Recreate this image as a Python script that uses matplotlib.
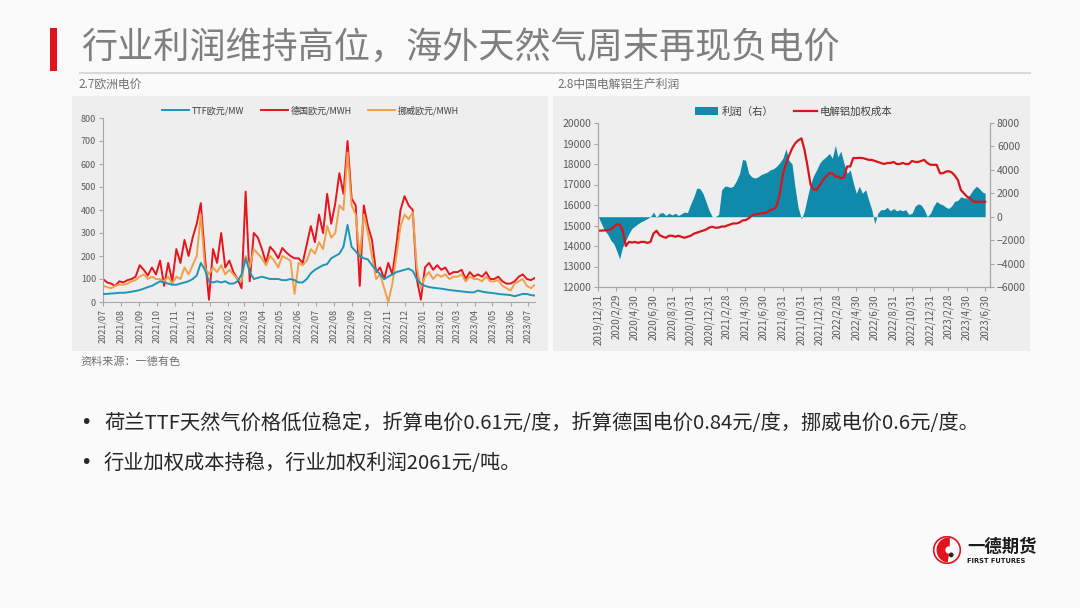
import matplotlib
matplotlib.use('Agg')
import matplotlib.pyplot as plt
import pandas as pd
from matplotlib.patches import Rectangle, Circle, Wedge
from matplotlib.lines import Line2D
from matplotlib.patches import Patch

plt.rcParams['font.family'] = ['Noto Sans CJK SC', 'DejaVu Sans']

# ---------------- data: European power prices (weekly samples) ----------------
euro_start = '2021-07-01'
ttf = [35, 35, 37, 38, 40,
       40, 42, 45, 48,
       52, 58, 65, 70, 80,
       90, 85, 80, 75,
       75, 80, 85, 90,
       100, 115, 170, 140, 90,
       85, 90, 85, 90,
       80, 80, 90, 120,
       190, 130, 100, 105, 110,
       105, 100, 100, 100,
       95, 95, 100, 95,
       85, 85, 100, 125, 140,
       150, 160, 165, 190,
       200, 210, 240, 335,
       240, 220, 200, 190, 185,
       160, 140, 120, 100,
       110, 120, 130, 135,
       140, 145, 135, 100, 80,
       70, 65, 62, 60,
       58, 55, 52, 50,
       48, 46, 44, 42, 42,
       50, 45, 42, 40,
       38, 35, 33, 32,
       30, 25, 30, 35, 35,
       30, 28]
germany = [100, 85, 80, 70, 90,
           85, 95, 100, 110,
           160, 140, 115, 150, 120,
           180, 70, 170, 90,
           230, 170, 270, 200,
           280, 340, 430, 200, 10,
           230, 170, 300, 150,
           180, 130, 100, 60,
           480, 90, 300, 280, 230,
           170, 240, 220, 190,
           235, 215, 200, 190,
           190, 170, 250, 330, 260,
           380, 300, 470, 340,
           430, 560, 470, 700,
           450, 420, 70, 420, 330,
           270, 130, 150, 100,
           170, 120, 250, 400,
           460, 420, 400, 100, 10,
           150, 170, 140, 160,
           140, 150, 120, 130,
           130, 140, 100, 130, 110,
           120, 110, 130, 100,
           100, 110, 90, 80,
           80, 90, 110, 120, 100,
           95, 105]
norway = [70, 65, 60, 70, 75,
          75, 80, 90, 95,
          110, 120, 100, 110, 100,
          100, 90, 110, 80,
          110, 100, 150, 120,
          160, 200, 380, 150, 120,
          150, 130, 160, 120,
          140, 120, 100, 90,
          200, 150, 230, 210, 190,
          160, 200, 180, 150,
          200, 190, 180, 35,
          170, 160, 180, 230, 210,
          260, 230, 330, 280,
          300, 420, 400, 650,
          420, 380, 200, 380, 300,
          200, 100, 120, 60,
          0, 80, 200, 330,
          380, 360, 390, 150, 60,
          110, 130, 100, 120,
          110, 120, 100, 110,
          110, 120, 90, 110, 100,
          100, 90, 110, 90,
          90, 95, 70, 60,
          50, 80, 90, 100, 70,
          60, 75]
euro_labels = ['TTF欧元/MW', '德国欧元/MWH', '挪威欧元/MWH']

# ---------------- data: China aluminium (3 samples per month) ----------------
cn_months = pd.date_range('2020-01-01', '2023-06-01', freq='MS')
cn_days = [1, 11, 21]
cn_end = '2023-06-30'
profit = [0, -570, -1140,
          -1500, -2000, -2300,
          -2860, -3600, -2600,
          -2000, -1430, -1000,
          -800, -600, -430,
          -300, -150, 0,
          400, -100, 300,
          350, 100, 300,
          150, 300, 100,
          250, 400, 350,
          1100, 1700, 2450,
          2400, 2000, 1300,
          500, 0, 0,
          200, 2300, 2600,
          2600, 2500, 2600,
          3100, 3700, 4900,
          4800, 3700, 3400,
          3300, 3400, 3600,
          3700, 3800, 4000,
          4100, 4300, 4600,
          5000, 5800, 4800,
          4500, 2500, 800,
          -200, 500, 1700,
          2800, 3500, 4000,
          4600, 4900, 5100,
          5400, 5000, 6100,
          5100, 5600, 4600,
          3700, 4000, 2900,
          2000, 2600, 2000,
          2300, 1400, 600,
          -600, 300, 600,
          600, 800, 500,
          700, 500, 600,
          500, 600, 200,
          300, 900, 1100,
          1000, 600, 0,
          300, 900, 1300,
          1100, 1000, 800,
          700, 900, 1300,
          1400, 1700, 1600,
          1600, 1900, 2300,
          2600, 2400, 2100,
          2000]
cost = [14750, 14750, 14760,
        14780, 14800, 14940,
        15050, 15050, 14770,
        14000, 14200, 14170,
        14200, 14150, 14200,
        14200, 14150, 14200,
        14610, 14740, 14530,
        14450, 14400, 14500,
        14500, 14450, 14500,
        14450, 14400, 14450,
        14500, 14600, 14650,
        14700, 14750, 14800,
        14900, 14940, 14890,
        14900, 14950, 14950,
        15000, 15050, 15100,
        15100, 15150, 15250,
        15260, 15350, 15480,
        15550, 15550, 15600,
        15600, 15650, 15750,
        15800, 15950, 16500,
        17500, 18000, 18400,
        18750, 19000, 19150,
        19250, 18700, 17900,
        17000, 16750, 16750,
        16980, 17220, 17390,
        17550, 17550, 17390,
        17390, 17300, 17350,
        17880, 17880, 18290,
        18290, 18300, 18290,
        18250, 18200, 18200,
        18150, 18100, 18050,
        18000, 18050, 18050,
        18100, 18000, 18000,
        18050, 18000, 18000,
        18150, 18100, 18100,
        18150, 18200, 18050,
        17960, 17960, 17960,
        17550, 17550, 17630,
        17650, 17600, 17450,
        17220, 16730, 16570,
        16410, 16330, 16160,
        16160, 16160, 16160,
        16160]
cn_ticks = ['2019-12-31', '2020-02-29', '2020-04-30', '2020-06-30', '2020-08-31',
            '2020-10-31', '2020-12-31', '2021-02-28', '2021-04-30', '2021-06-30',
            '2021-08-31', '2021-10-31', '2021-12-31', '2022-02-28', '2022-04-30',
            '2022-06-30', '2022-08-31', '2022-10-31', '2022-12-31', '2023-02-28',
            '2023-04-30', '2023-06-30']
cn_labels = ['利润（右）', '电解铝加权成本']

title = '行业利润维持高位，海外天然气周末再现负电价'
bullets = ['荷兰TTF天然气价格低位稳定，折算电价0.61元/度，折算德国电价0.84元/度，挪威电价0.6元/度。',
           '行业加权成本持稳，行业加权利润2061元/吨。']

# ---------------- layout helpers ----------------
W, H = 1080, 608
fig = plt.figure(figsize=(10.8, 6.08), dpi=100)
fig.patch.set_facecolor('#fafafa')


def box(x0, y0, x1, y1):
    return [x0 / W, 1 - y1 / H, (x1 - x0) / W, (y1 - y0) / H]


def ftext(x, y, s, **kw):
    fig.text(x / W, 1 - y / H, s, **kw)


def frect(x0, y0, x1, y1, color, z=0):
    fig.add_artist(Rectangle((x0 / W, 1 - y1 / H), (x1 - x0) / W, (y1 - y0) / H,
                             transform=fig.transFigure, facecolor=color,
                             edgecolor='none', zorder=z))


# title
frect(50, 28, 57, 71, '#e0121b')
ftext(81, 48, title, fontsize=26, color='#7f7f7f', va='center', ha='left')
fig.add_artist(Line2D([80 / W, 1030 / W], [1 - 73 / H, 1 - 73 / H],
                      transform=fig.transFigure, color='#d9d9d9', lw=1.5))

# panels
frect(72, 96, 548, 351, '#eeeeee')
frect(553, 96, 1030, 351, '#eeeeee')
ftext(78, 84, '2.7欧洲电价', fontsize=8.5, color='#707070', va='center')
ftext(557, 84, '2.8中国电解铝生产利润', fontsize=8.5, color='#707070', va='center')
ftext(80, 362, '资料来源：一德有色', fontsize=8, color='#707070', va='center')

TICK_C = '#595959'
AX_C = '#a6a6a6'

# ---------------- left chart ----------------
ax1 = fig.add_axes(box(103, 118, 535, 302))
ax1.patch.set_visible(False)
ed = pd.date_range(euro_start, periods=len(ttf), freq='7D')
ax1.plot(ed, ttf, color='#1f95b8', lw=1.4, label=euro_labels[0], zorder=3)
ax1.plot(ed, germany, color='#e8141c', lw=1.4, label=euro_labels[1], zorder=1)
ax1.plot(ed, norway, color='#f0a04b', lw=1.4, label=euro_labels[2], zorder=2)
ax1.set_ylim(0, 800)
ax1.set_yticks(range(0, 801, 100))
ax1.set_xlim(pd.Timestamp('2021-07-01'), pd.Timestamp('2023-07-13'))
mt = pd.date_range('2021-07-01', '2023-07-01', freq='MS')
ax1.set_xticks(mt)
ax1.set_xticklabels([d.strftime('%Y/%m') for d in mt], rotation=90)
for s in ['top', 'right']:
    ax1.spines[s].set_visible(False)
for s in ['left', 'bottom']:
    ax1.spines[s].set_color(AX_C)
    ax1.spines[s].set_linewidth(0.8)
ax1.tick_params(axis='both', labelsize=6.5, colors=AX_C, labelcolor=TICK_C,
                length=3, width=0.8, pad=2)
ax1.legend(loc='center', bbox_to_anchor=(0.48, 1.04), ncol=3, frameon=False,
           fontsize=6.5, handlelength=3, columnspacing=1.8, handletextpad=0.3,
           labelcolor='#404040')

# ---------------- right chart ----------------
ax2 = fig.add_axes(box(598, 123, 990, 287))
ax3 = ax2.twinx()
cd = [m + pd.Timedelta(days=d - 1) for m in cn_months for d in cn_days] + [pd.Timestamp(cn_end)]
ax3.fill_between(cd, 0, profit, color='#0f8aaa', lw=0, label=cn_labels[0])
ax2.plot(cd, cost, color='#d9141b', lw=1.6, label=cn_labels[1])
ax2.set_zorder(ax3.get_zorder() + 1)
ax2.patch.set_visible(False)
ax3.patch.set_visible(False)
ax2.set_ylim(12000, 20000)
ax2.set_yticks(range(12000, 20001, 1000))
ax3.set_ylim(-6000, 8000)
ax3.set_yticks(range(-6000, 8001, 2000))
ax2.set_xlim(pd.Timestamp('2019-12-31'), pd.Timestamp('2023-07-16'))
tk = [pd.Timestamp(t) for t in cn_ticks]
ax2.set_xticks(tk)
ax2.set_xticklabels([f'{d.year}/{d.month}/{d.day}' for d in tk], rotation=90)
for a in (ax2, ax3):
    a.spines['top'].set_visible(False)
    for s in ['left', 'right', 'bottom']:
        a.spines[s].set_color(AX_C)
        a.spines[s].set_linewidth(0.8)
    a.tick_params(axis='both', labelsize=7, colors=AX_C, labelcolor=TICK_C,
                  length=3, width=0.8, pad=2)
    a.tick_params(axis='y', labelsize=7.5)
handles = [Patch(facecolor='#0f8aaa', edgecolor='none'),
           Line2D([0], [0], color='#d9141b', lw=1.6)]
ax2.legend(handles, cn_labels, loc='center', bbox_to_anchor=(0.5, 1.07), ncol=2,
           frameon=False, fontsize=7.5, handlelength=2.2, columnspacing=2.0,
           handletextpad=0.3, labelcolor='#404040')

# ---------------- bullets ----------------
for i, b in enumerate(bullets):
    y = 423 + i * 40
    ftext(80, y, '•', fontsize=14, color='#262626', va='center',
          family=['DejaVu Sans'])
    ftext(104, y, b, fontsize=14.6, color='#262626', va='center')

# ---------------- logo ----------------
lax = fig.add_axes(box(933, 534, 961, 566))
lax.set_xlim(-1, 1)
lax.set_ylim(-1, 1)
lax.set_aspect('equal')
lax.axis('off')
lax.add_patch(Circle((0, 0), 0.95, fill=False, ec='#e0121b', lw=1.2))
for r in (0.85, 0.7, 0.55, 0.4):
    lax.add_patch(Wedge((0.15, 0.0), r, 90, 260, width=0.08, color='#e0121b'))
lax.add_patch(Circle((0.3, -0.35), 0.12, color='#222222'))
ftext(967, 547, '一德期货', fontsize=12.5, fontweight='bold', color='#1a1a1a', va='center')
ftext(967, 561, 'FIRST FUTURES', fontsize=4.8, fontweight='bold', color='#1a1a1a',
      va='center', family=['DejaVu Sans'])

fig.savefig('out.png', dpi=100, facecolor=fig.get_facecolor())
